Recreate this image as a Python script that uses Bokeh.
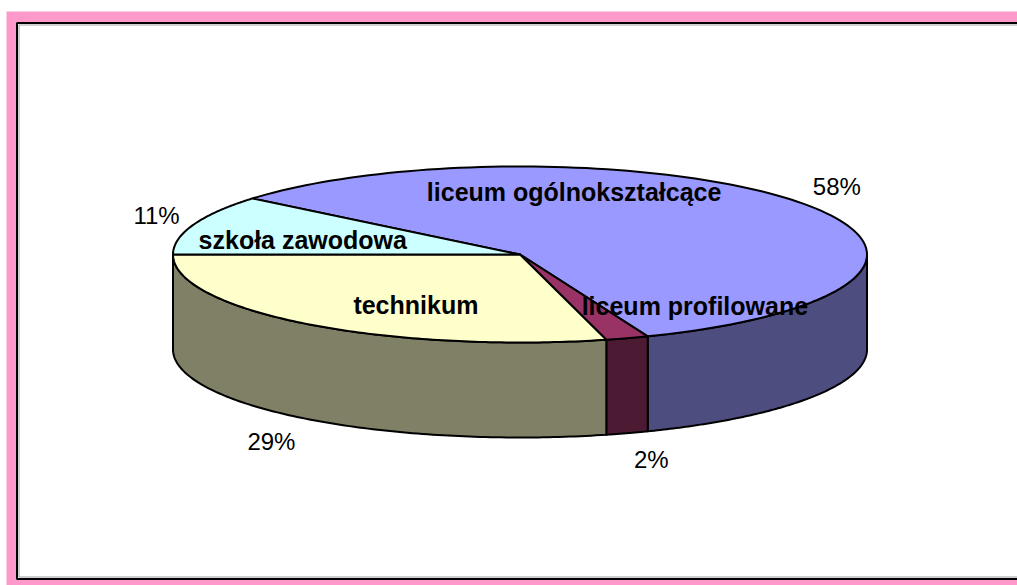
import numpy as np
from bokeh.plotting import figure
from bokeh.models import Range1d
from bokeh.embed import file_html
from bokeh.resources import INLINE
from bokeh.core.properties import value

# ---------------- data ----------------
categories = ["liceum ogólnokształcące", "liceum profilowane", "technikum", "szkoła zawodowa"]
shares = [58, 2, 29, 11]
pct_labels = ["58%", "2%", "29%", "11%"]

# ---------------- style ----------------
top_colors = ["#9999FF", "#993366", "#FFFFCC", "#CCFFFF"]
side_colors = ["#4D4D80", "#4D1A33", "#808066", "#668080"]
PINK = "#FF99CC"

W, H = 1017, 585
CX, CY = 519.5, 254.0      # pie centre (pixel-like data units)
RX, RY = 347.0, 88.0       # ellipse radii of the top face
DEPTH = 95.0               # thickness of the pie
START = 309.6              # first slice start, degrees clockwise from 12 o'clock

# inner category-label positions, as fractions of RX / RY from the centre
cat_pos = [(0.156, -0.705), (0.504, 0.58), (-0.300, 0.576), (-0.626, -0.17)]
# percentage labels: outside along mid-angle, small horizontal nudges
PCT_SX, PCT_SY = 1.15, 1.32
pct_nudge = [-6, 8, -4, 12]


def arc(a0, a1, dy=0.0, n=120):
    t = np.radians(np.linspace(a0, a1, n))
    return list(CX + RX * np.sin(t)), list(CY - RY * np.cos(t) + dy)


# slice angles
fr = np.array(shares, dtype=float) / sum(shares)
ends = START + np.cumsum(fr) * 360.0
starts = np.concatenate([[START], ends[:-1]])

# side walls (front half: 90..270 deg, modulo 360)
side_xs, side_ys, side_c = [], [], []
for a0, a1, c in zip(starts, ends, side_colors):
    for k in range(0, 3):
        lo = max(a0, 90 + 360 * k)
        hi = min(a1, 270 + 360 * k)
        if hi - lo > 1e-6:
            tx, ty = arc(lo, hi)
            bx, by = arc(hi, lo, dy=DEPTH)
            side_xs.append(tx + bx)
            side_ys.append(ty + by)
            side_c.append(c)

# top wedges
top_xs, top_ys = [], []
for a0, a1 in zip(starts, ends):
    ax, ay = arc(a0, a1)
    top_xs.append([CX] + ax)
    top_ys.append([CY] + ay)

ML, MT = 6, 11
p = figure(width=W, height=H,
           x_range=Range1d(ML, W), y_range=Range1d(H, MT),
           output_backend="svg", toolbar_location=None,
           x_axis_location=None, y_axis_location=None,
           min_border_left=ML, min_border_right=0,
           min_border_top=MT, min_border_bottom=0,
           background_fill_color=PINK, border_fill_color="white",
           outline_line_color=None)
p.grid.visible = False

# white chart area with black frame and faint grey inner shadow line
p.quad(left=16.5, right=1100, top=22.5, bottom=578.5,
       fill_color="white", line_color="black", line_width=2)
p.quad(left=18.5, right=1100, top=24.5, bottom=576.5,
       fill_color=None, line_color="#A0A0A0", line_width=1)

p.patches(xs=side_xs, ys=side_ys, fill_color=side_c,
          line_color="black", line_width=2, line_join="round")
p.patches(xs=top_xs, ys=top_ys, fill_color=top_colors,
          line_color="black", line_width=2, line_join="round")

# category labels (bold, inside)
cat_x = [CX + fx * RX for fx, fy in cat_pos]
cat_y = [CY + fy * RY for fx, fy in cat_pos]
p.text(x=cat_x, y=cat_y, text=categories,
       text_font=value("Liberation Sans"), text_font_style="bold",
       text_font_size="25px", text_align="center",
       text_baseline="middle", text_color="black")

# percentage labels (outside)
mids = np.radians((starts + ends) / 2.0)
px, py = [], []
for m, nud in zip(mids, pct_nudge):
    x = CX + PCT_SX * RX * np.sin(m) + nud
    y = CY - PCT_SY * RY * np.cos(m)
    if np.cos(m) < 0:
        y += DEPTH
    px.append(x)
    py.append(y)
p.text(x=px, y=py, text=pct_labels,
       text_font=value("Liberation Sans"), text_font_size="24px",
       text_align="center", text_baseline="middle", text_color="black")

open("out.html", "w").write(file_html(p, INLINE))
